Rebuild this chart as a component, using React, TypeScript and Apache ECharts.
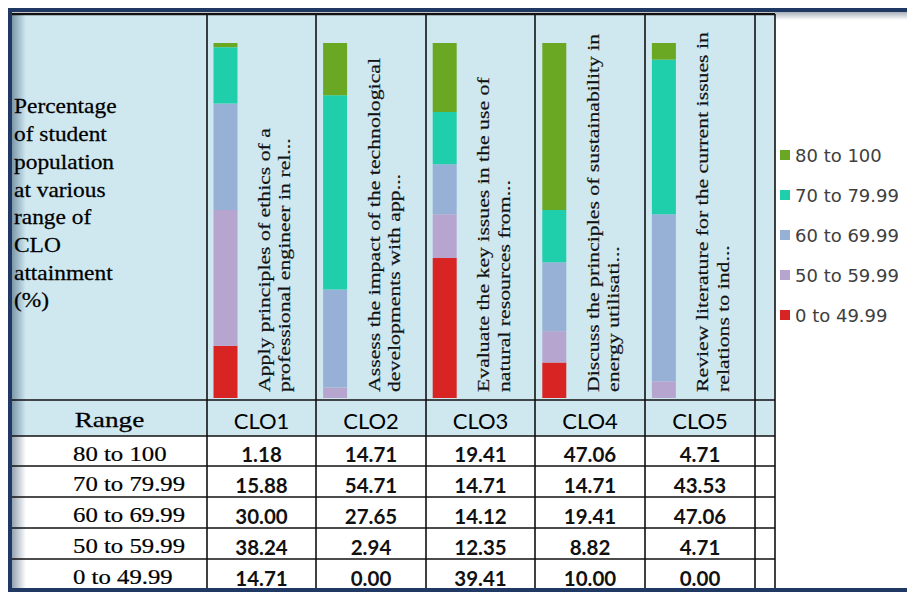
import React, { useEffect, useRef } from "react";
import * as echarts from "echarts";

// ---------- data ----------
const clos = ["CLO1", "CLO2", "CLO3", "CLO4", "CLO5"];
const outcomeLines = [
  ["Apply principles of ethics of a", "professional engineer in rel..."],
  ["Assess the impact of the technological", "developments with app..."],
  ["Evaluate the key issues in the use of", "natural resources from..."],
  ["Discuss the principles of sustainability in", "energy utilisati..."],
  ["Review literature for the current issues in", "relations to ind..."],
];
const rangeNames = ["80 to 100", "70 to 79.99", "60 to 69.99", "50 to 59.99", "0 to 49.99"];
const range80 = [1.18, 14.71, 19.41, 47.06, 4.71];
const range70 = [15.88, 54.71, 14.71, 14.71, 43.53];
const range60 = [30.0, 27.65, 14.12, 19.41, 47.06];
const range50 = [38.24, 2.94, 12.35, 8.82, 4.71];
const range0 = [14.71, 0.0, 39.41, 10.0, 0.0];
const rangeValues = [range80, range70, range60, range50, range0];
const rangeColors = ["#6aa823", "#1fcfab", "#97b1d6", "#b6a6cf", "#d92424"];
const headerLines = ["Percentage", "of student", "population", "at various", "range of", "CLO", "attainment", "(%)"];
const rangeTitle = "Range";

// ---------- layout ----------
const colX = [12, 207, 316, 426, 535, 645, 755, 775];
const rowY = [400, 436, 466, 497, 528, 559, 590];
const tableTop = 14;
const bandW = (colX[6] - colX[1]) / 5;
const barOffset = 18.5;
const gridLeft = colX[1] + barOffset - bandW / 2;
const barTop = 43;
const barBottom = 398;

const SERIF = "'Liberation Serif', 'Times New Roman', serif";
const SANS = "Lato, 'Noto Sans', sans-serif";

function buildGraphic() {
  const g: any[] = [];
  // backgrounds
  g.push({ type: "rect", z: 0, shape: { x: colX[0], y: tableTop, width: colX[7] - colX[0], height: rowY[1] - tableTop }, style: { fill: "#cfe8f0" } });
  g.push({ type: "rect", z: 0, shape: { x: colX[0], y: rowY[1], width: colX[7] - colX[0], height: rowY[6] - rowY[1] }, style: { fill: "#ffffff" } });
  // left inner shadow
  g.push({
    type: "rect", z: 1, silent: true,
    shape: { x: colX[0], y: tableTop, width: 14, height: rowY[6] - tableTop },
    style: { fill: { type: "linear", x: 0, y: 0, x2: 1, y2: 0, colorStops: [{ offset: 0, color: "rgba(40,70,100,0.5)" }, { offset: 1, color: "rgba(40,70,100,0)" }] } },
  });
  // top shadow in legend area
  g.push({
    type: "rect", z: 1, silent: true,
    shape: { x: colX[7], y: 12, width: 907 - colX[7], height: 8 },
    style: { fill: { type: "linear", x: 0, y: 0, x2: 0, y2: 1, colorStops: [{ offset: 0, color: "rgba(60,80,100,0.45)" }, { offset: 1, color: "rgba(60,80,100,0)" }] } },
  });
  // grid lines
  const lineStyle = { stroke: "#111", lineWidth: 1.6 };
  colX.forEach((x, i) => {
    if (i === 0) return;
    g.push({ type: "line", z: 5, shape: { x1: x, y1: tableTop, x2: x, y2: rowY[6] }, style: lineStyle });
  });
  g.push({ type: "line", z: 5, shape: { x1: colX[0], y1: tableTop, x2: colX[7], y2: tableTop }, style: { stroke: "#111", lineWidth: 2.5 } });
  rowY.forEach((y) => {
    g.push({ type: "line", z: 5, shape: { x1: colX[0], y1: y, x2: colX[7], y2: y }, style: lineStyle });
  });
  // left header text
  g.push({
    type: "text", z: 10, x: 14, y: 204, scaleX: 1.17,
    style: { text: headerLines.join("\n"), fontFamily: SERIF, fontSize: 20, lineHeight: 27.7, fill: "#000", stroke: "#000", lineWidth: 0.25, align: "left", verticalAlign: "middle", textAlign: "left", textVerticalAlign: "middle" },
  });
  // header row
  const hy = (rowY[0] + rowY[1]) / 2 + 2;
  g.push({
    type: "text", z: 10, x: (colX[0] + colX[1]) / 2, y: hy, scaleX: 1.3,
    style: { text: rangeTitle, fontFamily: SERIF, fontSize: 21, fill: "#000", stroke: "#000", lineWidth: 0.25, align: "center", verticalAlign: "middle", textAlign: "center", textVerticalAlign: "middle" },
  });
  clos.forEach((c, i) => {
    g.push({
      type: "text", z: 10, x: (colX[i + 1] + colX[i + 2]) / 2, y: hy,
      style: { text: c, fontFamily: SANS, fontSize: 22, fill: "#000", align: "center", verticalAlign: "middle", textAlign: "center", textVerticalAlign: "middle" },
    });
  });
  // data rows
  rangeNames.forEach((name, r) => {
    const cy = (rowY[r + 1] + rowY[r + 2]) / 2 + 3;
    g.push({
      type: "text", z: 10, x: 73, y: cy, scaleX: 1.18,
      style: { text: name, fontFamily: SERIF, fontSize: 21, fill: "#000", stroke: "#000", lineWidth: 0.2, align: "left", verticalAlign: "middle", textAlign: "left", textVerticalAlign: "middle" },
    });
    rangeValues[r].forEach((v, i) => {
      g.push({
        type: "text", z: 10, x: (colX[i + 1] + colX[i + 2]) / 2, y: cy,
        style: { text: v.toFixed(2), fontFamily: SANS, fontWeight: "bold", fontSize: 20.5, fill: "#111", align: "center", verticalAlign: "middle", textAlign: "center", textVerticalAlign: "middle" },
      });
    });
  });
  // navy frame
  g.push({ type: "rect", z: 20, silent: true, shape: { x: 10, y: 10, width: 920, height: 580 }, style: { fill: "none", stroke: "#1f3864", lineWidth: 4 } });
  return g;
}

export default function App() {
  const ref = useRef<HTMLDivElement>(null);
  useEffect(() => {
    if (!ref.current) return;
    const chart = echarts.init(ref.current, null, { renderer: "svg" });
    const barSeries = [4, 3, 2, 1, 0].map((r) => ({
      type: "bar",
      name: rangeNames[r],
      stack: "total",
      data: rangeValues[r],
      barWidth: 24,
      itemStyle: { color: rangeColors[r] },
      emphasis: { disabled: true },
      z: 3,
    }));
    chart.setOption({
      animation: false,
      backgroundColor: "#ffffff",
      grid: { left: gridLeft, top: barTop, width: bandW * 5, height: barBottom - barTop, containLabel: false },
      xAxis: { type: "category", data: clos, show: false },
      yAxis: { type: "value", min: 0, max: 100, show: false },
      legend: {
        orient: "vertical",
        left: 780,
        top: 146,
        itemWidth: 10,
        itemHeight: 10,
        itemGap: 22,
        padding: 0,
        icon: "rect",
        data: rangeNames,
        textStyle: { fontFamily: "'DejaVu Sans', sans-serif", fontSize: 18, lineHeight: 18, color: "#404040" },
        selectedMode: false,
      },
      graphic: { elements: buildGraphic() },
      series: [
        ...barSeries,
        {
          type: "custom",
          name: "outcomes",
          silent: true,
          z: 4,
          data: clos.map((c, i) => [i, 0]),
          renderItem: (params: any, api: any) => {
            const idx = params.dataIndex;
            const pt = api.coord([idx, 0]);
            return {
              type: "text",
              x: pt[0] + 49,
              y: pt[1] - 6,
              rotation: Math.PI / 2,
              scaleX: 1.28,
              style: {
                text: outcomeLines[idx].join("\n"),
                fontFamily: SERIF,
                fontSize: 17,
                lineHeight: 20.5,
                fill: "#111",
                stroke: "#111",
                lineWidth: 0.2,
                align: "left",
                verticalAlign: "middle",
                textAlign: "left",
                textVerticalAlign: "middle",
              },
            };
          },
        },
      ],
    });
    return () => chart.dispose();
  }, []);
  return (
    <div
      ref={ref}
      style={{ position: "fixed", left: 0, top: 0, width: 907, height: 592, background: "#fff" }}
    />
  );
}
